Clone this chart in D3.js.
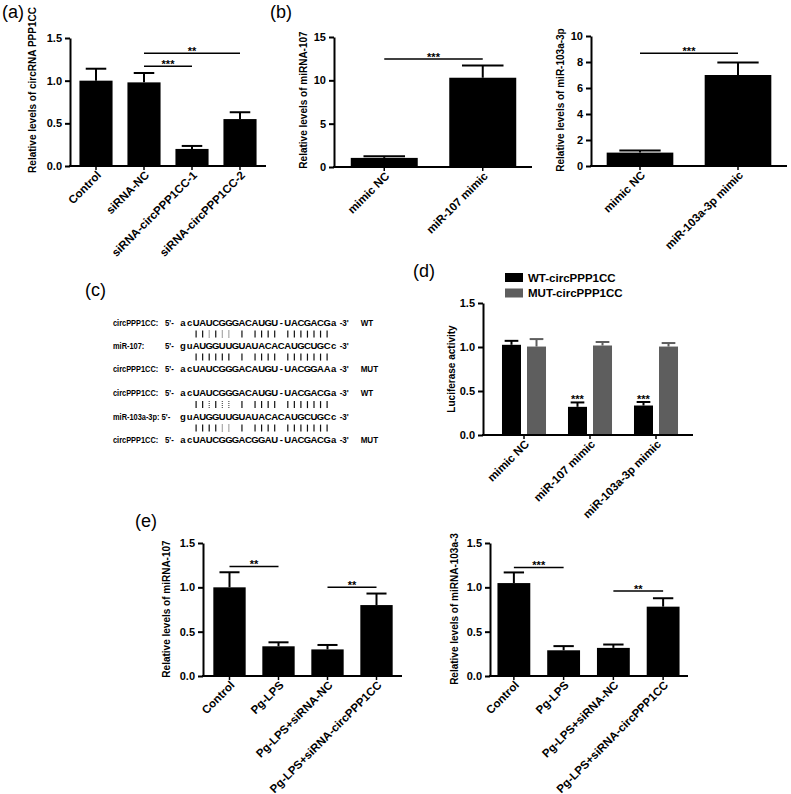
<!DOCTYPE html>
<html><head><meta charset="utf-8">
<script src="https://cdn.jsdelivr.net/npm/d3@7"></script>
<style>
body{margin:0;background:#fff}
svg{display:block}
text{font-family:"Liberation Sans",Arial,sans-serif}
</style>
</head><body>
<svg id="fig" width="791" height="794"></svg>
<script>
// ---------------- data ----------------
const catsA = ["Control","siRNA-NC","siRNA-circPPP1CC-1","siRNA-circPPP1CC-2"];
const valsA = [1.00, 0.98, 0.20, 0.55];
const errsA = [0.14, 0.11, 0.035, 0.08];
const ticksA = [0, 0.5, 1.0, 1.5];
const sigA = [["siRNA-NC","siRNA-circPPP1CC-1",1.17,"***"],["siRNA-NC","siRNA-circPPP1CC-2",1.32,"**"]];

const catsB1 = ["mimic NC","miR-107 mimic"];
const valsB1 = [1.05, 10.3];
const errsB1 = [0.2, 1.4];
const ticksB1 = [0, 5, 10, 15];
const sigB1 = [["mimic NC","miR-107 mimic",12.45,"***"]];

const catsB2 = ["mimic NC","miR-103a-3p mimic"];
const valsB2 = [1.03, 7.0];
const errsB2 = [0.17, 0.97];
const ticksB2 = [0, 2, 4, 6, 8, 10];
const sigB2 = [["mimic NC","miR-103a-3p mimic",8.67,"***"]];

const catsD = ["mimic NC","miR-107 mimic","miR-103a-3p mimic"];
const seriesD = ["WT-circPPP1CC","MUT-circPPP1CC"];
const valsWT = [1.025, 0.32, 0.335];
const errsWT = [0.045, 0.05, 0.04];
const valsMUT = [1.005, 1.017, 1.005];
const errsMUT = [0.085, 0.04, 0.04];
const starsD = ["", "***", "***"];
const ticksD = [0, 0.5, 1.0, 1.5];

const catsE = ["Control","Pg-LPS","Pg-LPS+siRNA-NC","Pg-LPS+siRNA-circPPP1CC"];
const valsE1 = [1.00, 0.335, 0.30, 0.80];
const errsE1 = [0.17, 0.045, 0.05, 0.13];
const sigE1 = [["Control","Pg-LPS",1.235,"**"],["Pg-LPS+siRNA-NC","Pg-LPS+siRNA-circPPP1CC",1.00,"**"]];
const valsE2 = [1.048, 0.29, 0.317, 0.782];
const errsE2 = [0.12, 0.047, 0.038, 0.095];
const sigE2 = [["Control","Pg-LPS",1.225,"***"],["Pg-LPS+siRNA-NC","Pg-LPS+siRNA-circPPP1CC",0.96,"**"]];
const ticksE = [0, 0.5, 1.0, 1.5];

const seqLabels = ["circPPP1CC:","miR-107:","circPPP1CC:","circPPP1CC:","miR-103a-3p:","circPPP1CC:"];
const seqs = ["acUAUCGGGACAUGU-UACGACGa","guAUGGUUGUAUACACAUGCUGCc","acUAUCGGGACAUGU-UACGGAAa",
              "acUAUCGGGACAUGU-UACGACGa","guAUGGUUGUAUACACAUGCUGCc","acUAUCGGGACGGAU-UACGACGa"];
const seqTags = ["WT","","MUT","WT","","MUT"];
const pairings = ["  ||:|:: | |||| ||||||| ","  |||||| | |||| ||||||| ","  ||:|:: | |||| ||||||| ","  ||||:: | |||| ||||||| "];

// ---------------- drawing ----------------
const svg = d3.select("#fig");
const BLACK = "#000", GRAY = "#5e5e5e";
const FONT = '"Liberation Sans",Arial,sans-serif';

function panelLabel(t, x, y){
  svg.append("text").attr("x", x).attr("y", y).attr("font-size", 18).text(t);
}

function drawAxes(g, x, y, cfg){
  const ya = d3.axisLeft(y).tickValues(cfg.ticks).tickFormat(cfg.fmt).tickSize(5).tickSizeOuter(0).tickPadding(3);
  const gy = g.append("g").attr("transform", `translate(${cfg.x0},0)`).call(ya);
  gy.select(".domain").attr("stroke-width", 2);
  gy.selectAll(".tick line").attr("stroke-width", 2);
  gy.selectAll(".tick text").attr("font-size", 11).attr("font-weight", "bold").attr("fill", BLACK).attr("font-family", FONT);
  g.append("line").attr("x1", cfg.x0 - 1).attr("x2", cfg.xEnd).attr("y1", cfg.yBot).attr("y2", cfg.yBot)
    .attr("stroke", BLACK).attr("stroke-width", 2);
  const xa = d3.axisBottom(x).tickSize(4).tickSizeOuter(0).tickFormat("");
  const gx = g.append("g").attr("transform", `translate(0,${cfg.yBot})`).call(xa);
  gx.select(".domain").remove();
  gx.selectAll(".tick line").attr("stroke-width", 1.5);
  g.selectAll("text.xl").data(x.domain()).join("text").attr("class", "xl")
    .attr("transform", d => `translate(${x(d) + x.bandwidth()/2 + 3},${cfg.yBot + 7}) rotate(-45)`)
    .attr("text-anchor", "end").attr("dy", "0.35em")
    .attr("font-size", 11.5).attr("font-weight", "bold").text(d => d);
  g.append("text").attr("transform", `translate(${cfg.ylx},${cfg.yly}) rotate(-90)`)
    .attr("text-anchor", "middle").attr("font-size", 10).attr("font-weight", "bold").text(cfg.ylabel);
}

function barPanel(cfg, cats, vals, errs, sigs){
  const g = svg.append("g");
  const x = d3.scaleBand().domain(cats).range(cfg.band).paddingInner(cfg.pad).paddingOuter(cfg.pad/2);
  const y = d3.scaleLinear().domain([0, cfg.max]).range([cfg.yBot, cfg.yTop]);
  const data = cats.map((c,i) => ({c, v: vals[i], e: errs[i]}));
  const bw = x.bandwidth(), cap = bw * 0.62;
  g.selectAll("line.eb").data(data).join("line").attr("class","eb")
    .attr("x1", d => x(d.c) + bw/2).attr("x2", d => x(d.c) + bw/2)
    .attr("y1", d => y(d.v)).attr("y2", d => y(d.v + d.e)).attr("stroke", BLACK).attr("stroke-width", 2);
  g.selectAll("line.ec").data(data).join("line").attr("class","ec")
    .attr("x1", d => x(d.c) + bw/2 - cap/2).attr("x2", d => x(d.c) + bw/2 + cap/2)
    .attr("y1", d => y(d.v + d.e)).attr("y2", d => y(d.v + d.e)).attr("stroke", BLACK).attr("stroke-width", 2);
  g.selectAll("rect.bar").data(data).join("rect").attr("class","bar")
    .attr("x", d => x(d.c)).attr("width", bw)
    .attr("y", d => y(d.v)).attr("height", d => y(0) - y(d.v)).attr("fill", BLACK);
  drawAxes(g, x, y, cfg);
  (sigs || []).forEach(s => {
    const xa = x(s[0]) + bw/2, xb = x(s[1]) + bw/2, yy = y(s[2]);
    g.append("line").attr("x1", xa).attr("x2", xb).attr("y1", yy).attr("y2", yy).attr("stroke", BLACK).attr("stroke-width", 1.5);
    g.append("text").attr("x", (xa + xb)/2).attr("y", yy + 2).attr("text-anchor", "middle")
      .attr("font-size", 11).attr("font-weight", "bold").text(s[3]);
  });
}

// (a)
panelLabel("(a)", 2, 18);
barPanel({x0:70, xEnd:266, band:[72,264], pad:0.31, yTop:38, yBot:166, max:1.5, ticks:ticksA, fmt:d3.format(".1f"),
  ylabel:"Relative levels of circRNA PPP1CC", ylx:36, yly:90}, catsA, valsA, errsA, sigA);

// (b)
panelLabel("(b)", 270, 18);
barPanel({x0:334, xEnd:532, band:[335,532], pad:0.32, yTop:37, yBot:167, max:15, ticks:ticksB1, fmt:d3.format("d"),
  ylabel:"Relative levels of miRNA-107", ylx:307, yly:100}, catsB1, valsB1, errsB1, sigB1);
barPanel({x0:591, xEnd:787, band:[591,787], pad:0.32, yTop:36, yBot:166, max:10, ticks:ticksB2, fmt:d3.format("d"),
  ylabel:"Relative levels of miR-103a-3p", ylx:564, yly:100}, catsB2, valsB2, errsB2, sigB2);

// (c)
panelLabel("(c)", 85, 296);
(function(){
  const g = svg.append("g").attr("font-weight", "bold").attr("font-size", 9.5);
  const rowY = [326, 349, 372, 396, 420, 443];
  const seqX0 = 183, pitch = 6.55;
  const pos = d3.scaleLinear().domain([0, 1]).range([seqX0, seqX0 + pitch]);
  const sq = (x, y, t, s) => g.append("text").attr("transform", `translate(${x},${y}) scale(${s},1)`).text(t);
  seqs.forEach((s, r) => {
    sq(113, rowY[r], seqLabels[r], 0.78);
    sq(r === 4 ? 161.5 : 165, rowY[r], "5'-", 0.82);
    g.selectAll(null).data(s.split("")).join("text")
      .attr("x", (d, i) => pos(i)).attr("y", rowY[r]).attr("text-anchor", "middle").text(d => d);
    sq(pos(s.length - 1) + 6, rowY[r], "-3'", 0.85);
    if (seqTags[r]) sq(pos(s.length - 1) + 27, rowY[r], seqTags[r], 0.85);
  });
  const pairRows = [[0,1],[1,2],[3,4],[4,5]];
  pairings.forEach((p, k) => {
    const [r1, r2] = pairRows[k];
    const cy = (rowY[r1] + rowY[r2]) / 2 - 3.4;
    g.selectAll(null).data(p.split("").map((c, i) => ({c, i})).filter(d => d.c !== " ")).join("line")
      .attr("x1", d => pos(d.i)).attr("x2", d => pos(d.i))
      .attr("y1", cy - 3.5).attr("y2", cy + 3.5)
      .attr("stroke", d => d.c === "|" ? "#111" : "#444")
      .attr("stroke-width", d => d.c === "|" ? 1.2 : 1.1)
      .attr("stroke-dasharray", d => d.c === ":" ? "1,1" : null);
  });
})();

// (d)
panelLabel("(d)", 413, 277);
(function(){
  const cfg = {x0:483, xEnd:693, band:[491,689], pad:0.333, yTop:303, yBot:435, max:1.5, ticks:ticksD, fmt:d3.format(".1f"),
    ylabel:"Luciferase activity", ylx:455, yly:369};
  const g = svg.append("g");
  const x = d3.scaleBand().domain(catsD).range(cfg.band).paddingInner(cfg.pad).paddingOuter(cfg.pad/2);
  const xs = d3.scaleBand().domain(seriesD).range([0, x.bandwidth()]).paddingInner(0.24);
  const y = d3.scaleLinear().domain([0, cfg.max]).range([cfg.yBot, cfg.yTop]);
  const color = d3.scaleOrdinal().domain(seriesD).range([BLACK, GRAY]);
  const data = [];
  catsD.forEach((c, i) => {
    data.push({c, s: seriesD[0], v: valsWT[i], e: errsWT[i], star: starsD[i]});
    data.push({c, s: seriesD[1], v: valsMUT[i], e: errsMUT[i], star: ""});
  });
  const bw = xs.bandwidth(), cap = bw * 0.72;
  const cx = d => x(d.c) + xs(d.s) + bw/2;
  g.selectAll("line.eb").data(data).join("line")
    .attr("x1", cx).attr("x2", cx).attr("y1", d => y(d.v)).attr("y2", d => y(d.v + d.e))
    .attr("stroke", d => color(d.s)).attr("stroke-width", 2);
  g.selectAll("line.ec").data(data).join("line")
    .attr("x1", d => cx(d) - cap/2).attr("x2", d => cx(d) + cap/2).attr("y1", d => y(d.v + d.e)).attr("y2", d => y(d.v + d.e))
    .attr("stroke", d => color(d.s)).attr("stroke-width", 2);
  g.selectAll("rect.bar").data(data).join("rect")
    .attr("x", d => x(d.c) + xs(d.s)).attr("width", bw)
    .attr("y", d => y(d.v)).attr("height", d => y(0) - y(d.v)).attr("fill", d => color(d.s));
  g.selectAll("text.st").data(data.filter(d => d.star)).join("text")
    .attr("x", cx).attr("y", d => y(d.v + d.e) + 1).attr("text-anchor", "middle")
    .attr("font-size", 11).attr("font-weight", "bold").text(d => d.star);
  drawAxes(g, x, y, cfg);
  const lg = svg.append("g");
  seriesD.forEach((s, i) => {
    lg.append("rect").attr("x", 505).attr("y", 273 + i*15.5).attr("width", 18).attr("height", 9).attr("fill", color(s));
    lg.append("text").attr("x", 528).attr("y", 277.5 + i*15.5).attr("dy", "0.35em")
      .attr("font-size", 11.5).attr("font-weight", "bold").text(s);
  });
})();

// (e)
panelLabel("(e)", 135, 527);
barPanel({x0:203, xEnd:402, band:[205,401], pad:0.34, yTop:543, yBot:676, max:1.5, ticks:ticksE, fmt:d3.format(".1f"),
  ylabel:"Relative levels of miRNA-107", ylx:170, yly:609}, catsE, valsE1, errsE1, sigE1);
barPanel({x0:490, xEnd:688, band:[489,688], pad:0.34, yTop:543, yBot:676, max:1.5, ticks:ticksE, fmt:d3.format(".1f"),
  ylabel:"Relative levels of miRNA-103a-3", ylx:458, yly:609}, catsE, valsE2, errsE2, sigE2);
</script>
</body></html>
